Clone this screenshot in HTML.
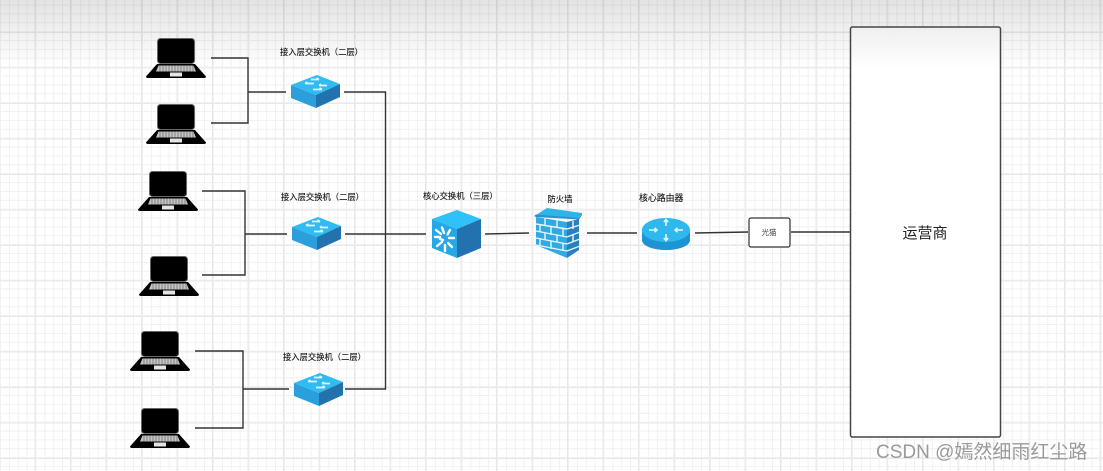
<!DOCTYPE html>
<html>
<head>
<meta charset="utf-8">
<style>
html,body{margin:0;padding:0;background:#fff}
svg{display:block;filter:blur(.35px)}
text{font-family:"Liberation Sans","Noto Sans CJK SC",sans-serif}
</style>
</head>
<body>
<svg xmlns="http://www.w3.org/2000/svg" width="1103" height="471" viewBox="0 0 1103 471">
<defs>
<pattern id="minor" width="8.875" height="8.875" patternUnits="userSpaceOnUse" patternTransform="translate(0 4.5)">
<path d="M0.5 0V8.875M0 0.5H8.875" stroke="#f1f1f1" stroke-width="1" fill="none"/>
</pattern>
<pattern id="major" width="35.5" height="35.5" patternUnits="userSpaceOnUse" patternTransform="translate(0 -3.5)">
<path d="M35 0V35.5M0 0.5H35.5" stroke="#e8e8e8" stroke-width="1" fill="none"/>
</pattern>
<linearGradient id="top" x1="0" y1="0" x2="0" y2="1">
<stop offset="0" stop-color="#000" stop-opacity=".11"/>
<stop offset="1" stop-color="#000" stop-opacity="0"/>
</linearGradient>
<linearGradient id="box" gradientUnits="userSpaceOnUse" x1="0" y1="27" x2="0" y2="68">
<stop offset="0" stop-color="#efefef"/>
<stop offset="1" stop-color="#fff"/>
</linearGradient>
<g id="laptop">
<rect x="11.500" y="0.500" width="37" height="25" rx="3" fill="#000" stroke="#666" stroke-width="1"/>
<path d="M11 26H49L60 38.500Q60 40 58 40H2Q0 40 0 38.500Z" fill="#000"/>
<path d="M12.500 27.500H47.500L50 33.500H10Z" fill="#c4c4c4"/>
<path d="M14 27.500V33.500M17 27.500V33.500M20 27.500V33.500M23 27.500V33.500M26 27.500V33.500M29 27.500V33.500M32 27.500V33.500M35 27.500V33.500M38 27.500V33.500M41 27.500V33.500M44 27.500V33.500M47 27.500V33.500" stroke="#444" stroke-width=".5"/>
<rect x="24" y="34.500" width="12" height="4" fill="#e4e4e4"/>
</g>
<g id="sw">
<path d="M0 10L26 0L49 9L25 20Z" fill="#2fbcf2"/>
<path d="M0 10L25 20V33L0 23Z" fill="#2b9fdc"/>
<path d="M25 20L49 9V22L25 33Z" fill="#2273ad"/>
<path d="M14 8.500H23M28 4.500H20M22 14.500H31M36 10.500H28M14 8.500L16.500 7M28 4.500L25.500 3M31 14.500L28.500 13M28 10.500L30 9" stroke="#dff5fc" stroke-width="1.700" fill="none"/>
</g>
<g id="core">
<path d="M0 9L25 0L49 9L25 19Z" fill="#2fc1f7"/>
<path d="M0 9L25 19V48L0 38Z" fill="#27a7e6"/>
<path d="M25 19L49 9V38L25 48Z" fill="#2272b0"/>
<g stroke="#fff" stroke-width="2.400" stroke-linecap="round">
<path d="M4 20L9 24M10 17.500L12 23M18 20L15.500 24.500M3 27H8M22 28H17M5 36L10 32M20 37L16 33M13 41V35M8 29L11 30"/>
</g>
</g>
<g id="fw">
<path d="M3 7L14 0L49 5L46 10L3 9Z" fill="#2fb4ea"/>
<path d="M1 8L3 6.500L46 10L49 5V7L46 11.500L3 9Z" fill="#2694ce"/>
<path d="M3 9L34 14V50L3 37Z" fill="#30a9e4"/>
<path d="M34 14L46 11V42L34 50Z" fill="#2a80bd"/>
<g stroke="#e6f7fc" stroke-width="1.400" fill="none">
<path d="M3 16L34 21M3 23L34 29M3 30L34 36M3 37L34 43M34 21L47 17M34 29L47 24M34 36L47 31M34 43L47 38"/>
<path d="M12 10.500V18M24 12.500V20M7 17V24M18 19V27M30 21V28M12 25V32M24 27V34M7 31V38M18 33V41M30 35V43M40 13V21M40 26V34"/>
</g>
</g>
<g id="router">
<path d="M0 12V22C0 28 11 32 24 32S48 28 48 22V12Z" fill="#1d94d3"/>
<ellipse cx="24" cy="12" rx="24" ry="12" fill="#2fb8ee"/>
<path d="M7 12H15M12.500 9.800L15 12L12.500 14.200M41 12H33M35.500 9.800L33 12L35.500 14.200M24 1.500V8M21.800 4L24 1.500L26.200 4M24 22.500V16M21.800 20L24 22.500L26.200 20" stroke="#e2f7fd" stroke-width="1.600" fill="none"/>
</g>
</defs>

<rect width="1103" height="471" fill="#fff"/>
<rect width="1103" height="471" fill="url(#minor)"/>
<rect width="1103" height="471" fill="url(#major)"/>
<rect width="1103" height="68" fill="url(#top)"/>

<g fill="none" stroke="#333" stroke-width="1.400">
<path d="M211 58H248V123H211M248 92H286M344 92H385.500V389H345"/>
<path d="M202 191H245V275H202M245 234H287M345 234H426"/>
<path d="M195 351H243V428H195M243 389H289"/>
<path d="M485 234L529 233M587 233H637M695 233L748 232M791 232H850"/>
</g>

<use href="#laptop" x="146" y="38"/>
<use href="#laptop" x="146" y="104"/>
<use href="#laptop" x="138" y="171"/>
<use href="#laptop" x="139" y="256"/>
<use href="#laptop" x="130" y="331"/>
<use href="#laptop" x="130" y="408"/>

<use href="#sw" x="291" y="75"/>
<use href="#sw" x="292" y="217"/>
<use href="#sw" x="294" y="373"/>
<use href="#core" x="432" y="210"/>
<use href="#fw" x="533" y="208"/>
<use href="#router" x="642" y="218"/>

<g font-size="8.300" fill="#111" stroke="#111" stroke-width=".12">
<text x="280" y="55">接入层交换机（二层）</text>
<text x="281" y="200">接入层交换机（二层）</text>
<text x="283" y="360">接入层交换机（二层）</text>
<text x="423" y="199">核心交换机（三层）</text>
<text x="547.500" y="202">防火墙</text>
<text x="639" y="201" font-size="8.900">核心路由器</text>
</g>

<rect x="749" y="218" width="41" height="29" rx="2" fill="#fff" stroke="#333" stroke-width="1.200"/>
<text x="769" y="235" font-size="7.500" fill="#444" text-anchor="middle">光猫</text>

<rect x="850.500" y="27" width="150" height="410" rx="2" fill="url(#box)" stroke="#444" stroke-width="1.500"/>
<text x="925" y="238" font-size="15" fill="#222" text-anchor="middle">运营商</text>

<text x="876" y="458" font-size="19" fill="#9a9a9a">CSDN @嫣然细雨红尘路</text>
</svg>
</body>
</html>
